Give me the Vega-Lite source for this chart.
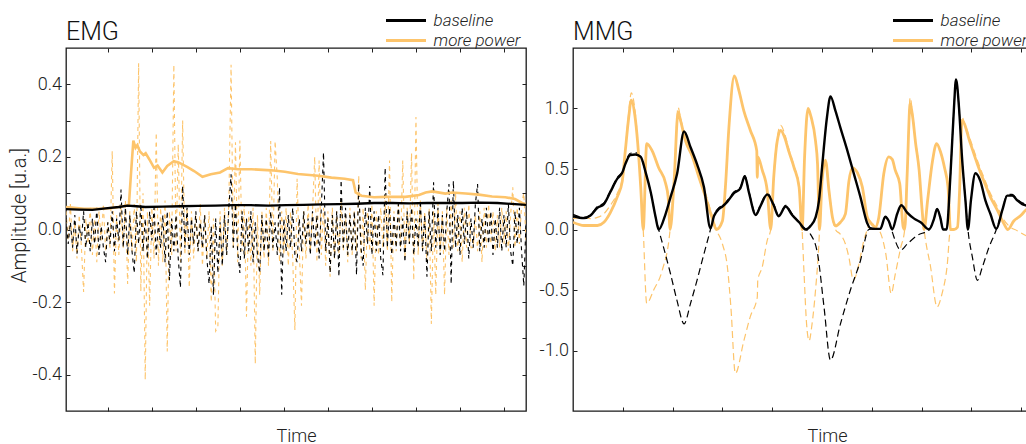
{
"$schema": "https://vega.github.io/schema/vega-lite/v6.json",
"padding": {"left": 8, "top": 11, "right": 0, "bottom": 0},
"autosize": {"type": "pad"},
"bounds": "flush",
"spacing": 47,
"config": {
  "font": "Roboto",
  "view": {"stroke": "#1a1a1a", "strokeWidth": 1.3},
  "axis": {"grid": false, "domain": false, "tickColor": "#222", "tickWidth": 1, "tickSize": -4, "labelFontSize": 18, "labelFontWeight": 300, "labelColor": "#222", "labelPadding": 8.5, "titleFontSize": 18, "titleFontWeight": 300, "titleColor": "#222"},
  "title": {"anchor": "start", "frame": "group", "fontSize": 25, "fontWeight": 300, "color": "#111", "offset": -32.6, "baseline": "alphabetic"},
  "legend": {"orient": "none", "legendX": 319.5, "legendY": -36, "title": null, "padding": 0, "symbolType": "M-10,0H10", "symbolSize": 16, "symbolStrokeWidth": 3, "symbolOffset": 12, "labelOffset": 19, "rowPadding": 2, "labelFontSize": 17, "labelFontStyle": "italic", "labelFontWeight": 300, "labelColor": "#222", "symbolDash": [1, 0]}
},
"resolve": {"scale": {"color": "independent"}, "legend": {"color": "independent"}},
"datasets": {
"emg_b_env": [{"t":0,"v":0.056},{"t":0.3,"v":0.055},{"t":0.6,"v":0.054},{"t":0.9,"v":0.058},{"t":1.2,"v":0.062},{"t":1.4,"v":0.066},{"t":1.6,"v":0.064},{"t":1.8,"v":0.062},{"t":2.2,"v":0.063},{"t":2.6,"v":0.064},{"t":3.0,"v":0.065},{"t":3.4,"v":0.066},{"t":3.8,"v":0.067},{"t":4.2,"v":0.067},{"t":4.6,"v":0.066},{"t":5.0,"v":0.067},{"t":5.4,"v":0.068},{"t":5.8,"v":0.069},{"t":6.2,"v":0.07},{"t":6.6,"v":0.071},{"t":7.0,"v":0.073},{"t":7.4,"v":0.073},{"t":7.8,"v":0.072},{"t":8.2,"v":0.073},{"t":8.6,"v":0.073},{"t":9.0,"v":0.073},{"t":9.4,"v":0.074},{"t":9.8,"v":0.073},{"t":10.2,"v":0.07},{"t":10.45,"v":0.068}],
"emg_o_env": [{"t":0,"v":0.062},{"t":0.41,"v":0.057},{"t":0.86,"v":0.057},{"t":1.09,"v":0.06},{"t":1.32,"v":0.065},{"t":1.43,"v":0.07},{"t":1.48,"v":0.16},{"t":1.53,"v":0.245},{"t":1.58,"v":0.225},{"t":1.62,"v":0.232},{"t":1.68,"v":0.215},{"t":1.76,"v":0.205},{"t":1.81,"v":0.21},{"t":1.91,"v":0.19},{"t":2.0,"v":0.17},{"t":2.08,"v":0.176},{"t":2.19,"v":0.157},{"t":2.3,"v":0.175},{"t":2.45,"v":0.188},{"t":2.57,"v":0.184},{"t":2.76,"v":0.172},{"t":2.91,"v":0.161},{"t":3.1,"v":0.145},{"t":3.29,"v":0.152},{"t":3.5,"v":0.157},{"t":3.68,"v":0.169},{"t":3.91,"v":0.166},{"t":4.21,"v":0.166},{"t":4.67,"v":0.163},{"t":4.97,"v":0.159},{"t":5.27,"v":0.153},{"t":5.73,"v":0.148},{"t":6.03,"v":0.143},{"t":6.33,"v":0.14},{"t":6.52,"v":0.136},{"t":6.58,"v":0.102},{"t":6.71,"v":0.093},{"t":7.0,"v":0.089},{"t":7.26,"v":0.09},{"t":7.71,"v":0.09},{"t":8.02,"v":0.095},{"t":8.17,"v":0.102},{"t":8.32,"v":0.105},{"t":8.62,"v":0.099},{"t":8.77,"v":0.102},{"t":9.08,"v":0.099},{"t":9.38,"v":0.096},{"t":9.68,"v":0.091},{"t":9.98,"v":0.089},{"t":10.2,"v":0.084},{"t":10.36,"v":0.073},{"t":10.45,"v":0.07}],
"emg_b_raw": [{"t":0,"v":0.03},{"t":0.05,"v":-0.04},{"t":0.1,"v":0.02},{"t":0.15,"v":-0.05},{"t":0.2,"v":0.04},{"t":0.25,"v":-0.067},{"t":0.3,"v":0.01},{"t":0.35,"v":-0.03},{"t":0.4,"v":0.05},{"t":0.45,"v":-0.05},{"t":0.5,"v":0.02},{"t":0.55,"v":-0.06},{"t":0.6,"v":0.03},{"t":0.65,"v":-0.04},{"t":0.7,"v":0.06},{"t":0.75,"v":-0.07},{"t":0.8,"v":0.01},{"t":0.85,"v":-0.05},{"t":0.9,"v":-0.09},{"t":0.95,"v":0.02},{"t":1.0,"v":-0.04},{"t":1.05,"v":0.05},{"t":1.1,"v":-0.06},{"t":1.15,"v":0.03},{"t":1.2,"v":-0.03},{"t":1.25,"v":0.11},{"t":1.3,"v":-0.05},{"t":1.35,"v":0.06},{"t":1.4,"v":-0.07},{"t":1.45,"v":0.04},{"t":1.5,"v":-0.06},{"t":1.55,"v":-0.12},{"t":1.6,"v":0.05},{"t":1.65,"v":-0.04},{"t":1.7,"v":0.07},{"t":1.75,"v":-0.06},{"t":1.8,"v":0.03},{"t":1.85,"v":-0.08},{"t":1.9,"v":0.05},{"t":1.95,"v":-0.03},{"t":2.0,"v":0.06},{"t":2.05,"v":-0.07},{"t":2.1,"v":0.02},{"t":2.15,"v":-0.05},{"t":2.2,"v":0.04},{"t":2.25,"v":-0.09},{"t":2.3,"v":0.05},{"t":2.35,"v":-0.14},{"t":2.4,"v":0.03},{"t":2.45,"v":-0.06},{"t":2.5,"v":0.04},{"t":2.55,"v":-0.08},{"t":2.6,"v":-0.16},{"t":2.65,"v":0.12},{"t":2.7,"v":-0.05},{"t":2.75,"v":0.06},{"t":2.8,"v":-0.07},{"t":2.85,"v":0.03},{"t":2.9,"v":-0.04},{"t":2.95,"v":0.05},{"t":3.0,"v":-0.06},{"t":3.05,"v":0.02},{"t":3.1,"v":-0.05},{"t":3.15,"v":0.04},{"t":3.2,"v":-0.08},{"t":3.25,"v":-0.15},{"t":3.3,"v":0.01},{"t":3.35,"v":-0.18},{"t":3.4,"v":0.03},{"t":3.45,"v":-0.12},{"t":3.5,"v":0.02},{"t":3.55,"v":-0.1},{"t":3.6,"v":0.04},{"t":3.65,"v":-0.07},{"t":3.7,"v":0.06},{"t":3.75,"v":0.152},{"t":3.8,"v":-0.05},{"t":3.85,"v":0.07},{"t":3.9,"v":-0.06},{"t":3.95,"v":-0.12},{"t":4.0,"v":0.05},{"t":4.05,"v":-0.08},{"t":4.1,"v":0.03},{"t":4.15,"v":-0.06},{"t":4.2,"v":0.05},{"t":4.25,"v":-0.09},{"t":4.3,"v":0.02},{"t":4.35,"v":-0.07},{"t":4.4,"v":-0.12},{"t":4.45,"v":0.04},{"t":4.5,"v":-0.06},{"t":4.55,"v":0.03},{"t":4.6,"v":-0.08},{"t":4.65,"v":0.05},{"t":4.7,"v":-0.05},{"t":4.75,"v":0.02},{"t":4.8,"v":-0.07},{"t":4.85,"v":0.116},{"t":4.9,"v":-0.18},{"t":4.95,"v":0.03},{"t":5.0,"v":-0.06},{"t":5.05,"v":0.04},{"t":5.1,"v":-0.05},{"t":5.15,"v":0.06},{"t":5.2,"v":-0.07},{"t":5.25,"v":-0.09},{"t":5.3,"v":0.03},{"t":5.35,"v":-0.06},{"t":5.4,"v":0.05},{"t":5.45,"v":-0.04},{"t":5.5,"v":0.03},{"t":5.55,"v":-0.07},{"t":5.6,"v":0.05},{"t":5.65,"v":-0.05},{"t":5.7,"v":0.04},{"t":5.75,"v":-0.08},{"t":5.8,"v":0.06},{"t":5.85,"v":0.212},{"t":5.9,"v":-0.06},{"t":5.95,"v":0.03},{"t":6.0,"v":-0.12},{"t":6.05,"v":0.04},{"t":6.1,"v":-0.08},{"t":6.15,"v":0.05},{"t":6.2,"v":-0.13},{"t":6.25,"v":0.136},{"t":6.3,"v":-0.05},{"t":6.35,"v":0.06},{"t":6.4,"v":-0.07},{"t":6.45,"v":0.04},{"t":6.5,"v":-0.06},{"t":6.55,"v":0.05},{"t":6.6,"v":-0.125},{"t":6.65,"v":0.125},{"t":6.7,"v":-0.05},{"t":6.75,"v":-0.1},{"t":6.8,"v":0.06},{"t":6.85,"v":-0.04},{"t":6.9,"v":0.12},{"t":6.95,"v":-0.07},{"t":7.0,"v":0.05},{"t":7.05,"v":-0.06},{"t":7.1,"v":0.04},{"t":7.15,"v":-0.08},{"t":7.2,"v":-0.126},{"t":7.25,"v":0.17},{"t":7.3,"v":-0.05},{"t":7.35,"v":0.06},{"t":7.4,"v":-0.07},{"t":7.45,"v":0.04},{"t":7.5,"v":-0.05},{"t":7.55,"v":0.07},{"t":7.6,"v":-0.06},{"t":7.65,"v":0.03},{"t":7.7,"v":-0.09},{"t":7.75,"v":0.05},{"t":7.8,"v":-0.04},{"t":7.85,"v":0.06},{"t":7.9,"v":-0.07},{"t":7.95,"v":0.03},{"t":8.0,"v":-0.05},{"t":8.05,"v":0.08},{"t":8.1,"v":-0.06},{"t":8.15,"v":0.04},{"t":8.2,"v":-0.13},{"t":8.25,"v":0.05},{"t":8.3,"v":-0.06},{"t":8.35,"v":0.13},{"t":8.4,"v":-0.05},{"t":8.45,"v":0.06},{"t":8.5,"v":-0.07},{"t":8.55,"v":0.04},{"t":8.6,"v":-0.06},{"t":8.65,"v":0.05},{"t":8.7,"v":0.125},{"t":8.75,"v":-0.15},{"t":8.8,"v":0.134},{"t":8.85,"v":-0.05},{"t":8.9,"v":0.04},{"t":8.95,"v":-0.07},{"t":9.0,"v":0.06},{"t":9.05,"v":-0.04},{"t":9.1,"v":0.05},{"t":9.15,"v":-0.08},{"t":9.2,"v":0.03},{"t":9.25,"v":-0.05},{"t":9.3,"v":0.07},{"t":9.35,"v":0.125},{"t":9.4,"v":-0.06},{"t":9.45,"v":0.03},{"t":9.5,"v":-0.05},{"t":9.55,"v":0.06},{"t":9.6,"v":-0.04},{"t":9.65,"v":0.05},{"t":9.7,"v":-0.07},{"t":9.75,"v":0.03},{"t":9.8,"v":-0.05},{"t":9.85,"v":0.06},{"t":9.9,"v":-0.06},{"t":9.95,"v":0.04},{"t":10.0,"v":-0.05},{"t":10.05,"v":0.07},{"t":10.1,"v":-0.06},{"t":10.15,"v":-0.1},{"t":10.2,"v":0.05},{"t":10.25,"v":-0.04},{"t":10.3,"v":0.06},{"t":10.35,"v":-0.06},{"t":10.4,"v":-0.155},{"t":10.45,"v":0.02}],
"emg_o_raw": [{"t":0,"v":0.05},{"t":0.05,"v":-0.03},{"t":0.1,"v":0.07},{"t":0.15,"v":-0.06},{"t":0.2,"v":0.02},{"t":0.25,"v":-0.08},{"t":0.3,"v":0.04},{"t":0.35,"v":-0.05},{"t":0.4,"v":-0.172},{"t":0.45,"v":0.03},{"t":0.5,"v":-0.04},{"t":0.55,"v":0.06},{"t":0.6,"v":-0.07},{"t":0.65,"v":0.03},{"t":0.7,"v":-0.09},{"t":0.75,"v":0.05},{"t":0.8,"v":-0.03},{"t":0.85,"v":0.07},{"t":0.9,"v":-0.06},{"t":0.95,"v":0.02},{"t":1.0,"v":-0.05},{"t":1.05,"v":0.216},{"t":1.1,"v":-0.176},{"t":1.15,"v":0.04},{"t":1.2,"v":-0.07},{"t":1.25,"v":0.06},{"t":1.3,"v":-0.05},{"t":1.35,"v":0.08},{"t":1.4,"v":-0.15},{"t":1.45,"v":0.05},{"t":1.5,"v":-0.06},{"t":1.55,"v":0.07},{"t":1.6,"v":-0.09},{"t":1.65,"v":0.458},{"t":1.7,"v":-0.17},{"t":1.75,"v":0.1},{"t":1.8,"v":-0.414},{"t":1.85,"v":0.05},{"t":1.9,"v":-0.21},{"t":1.95,"v":0.06},{"t":2.0,"v":-0.08},{"t":2.05,"v":0.267},{"t":2.1,"v":-0.1},{"t":2.15,"v":0.06},{"t":2.2,"v":-0.09},{"t":2.25,"v":0.08},{"t":2.3,"v":-0.336},{"t":2.35,"v":0.05},{"t":2.4,"v":-0.07},{"t":2.45,"v":0.454},{"t":2.5,"v":-0.06},{"t":2.55,"v":0.235},{"t":2.6,"v":-0.09},{"t":2.65,"v":0.3},{"t":2.7,"v":-0.07},{"t":2.75,"v":0.06},{"t":2.8,"v":-0.16},{"t":2.85,"v":0.05},{"t":2.9,"v":-0.08},{"t":2.95,"v":0.04},{"t":3.0,"v":-0.06},{"t":3.05,"v":0.07},{"t":3.1,"v":-0.1},{"t":3.15,"v":0.04},{"t":3.2,"v":-0.08},{"t":3.25,"v":0.05},{"t":3.3,"v":-0.2},{"t":3.35,"v":0.03},{"t":3.4,"v":-0.28},{"t":3.45,"v":-0.27},{"t":3.5,"v":0.05},{"t":3.55,"v":-0.1},{"t":3.6,"v":0.06},{"t":3.65,"v":-0.07},{"t":3.7,"v":0.08},{"t":3.75,"v":0.454},{"t":3.8,"v":-0.05},{"t":3.85,"v":0.24},{"t":3.9,"v":-0.09},{"t":3.95,"v":0.245},{"t":4.0,"v":-0.06},{"t":4.05,"v":0.07},{"t":4.1,"v":-0.24},{"t":4.15,"v":0.05},{"t":4.2,"v":-0.1},{"t":4.25,"v":0.06},{"t":4.3,"v":-0.37},{"t":4.35,"v":0.04},{"t":4.4,"v":-0.18},{"t":4.45,"v":0.05},{"t":4.5,"v":-0.08},{"t":4.55,"v":0.06},{"t":4.6,"v":-0.1},{"t":4.65,"v":0.244},{"t":4.7,"v":-0.06},{"t":4.75,"v":0.244},{"t":4.8,"v":0.14},{"t":4.85,"v":-0.09},{"t":4.9,"v":0.05},{"t":4.95,"v":-0.07},{"t":5.0,"v":0.06},{"t":5.05,"v":-0.1},{"t":5.1,"v":0.05},{"t":5.15,"v":-0.08},{"t":5.2,"v":-0.277},{"t":5.25,"v":0.14},{"t":5.3,"v":-0.06},{"t":5.35,"v":-0.21},{"t":5.4,"v":0.05},{"t":5.45,"v":-0.08},{"t":5.5,"v":0.07},{"t":5.55,"v":-0.06},{"t":5.6,"v":0.05},{"t":5.65,"v":0.2},{"t":5.7,"v":-0.09},{"t":5.75,"v":0.19},{"t":5.8,"v":-0.07},{"t":5.85,"v":0.06},{"t":5.9,"v":-0.1},{"t":5.95,"v":0.05},{"t":6.0,"v":-0.13},{"t":6.05,"v":0.06},{"t":6.1,"v":-0.08},{"t":6.15,"v":0.05},{"t":6.2,"v":-0.07},{"t":6.25,"v":0.08},{"t":6.3,"v":-0.06},{"t":6.35,"v":0.04},{"t":6.4,"v":-0.09},{"t":6.45,"v":0.06},{"t":6.5,"v":-0.07},{"t":6.55,"v":0.05},{"t":6.6,"v":-0.06},{"t":6.65,"v":0.148},{"t":6.7,"v":-0.08},{"t":6.75,"v":0.06},{"t":6.8,"v":-0.167},{"t":6.85,"v":0.05},{"t":6.9,"v":-0.06},{"t":6.95,"v":0.07},{"t":7.0,"v":-0.21},{"t":7.05,"v":0.05},{"t":7.1,"v":-0.07},{"t":7.15,"v":0.06},{"t":7.2,"v":-0.05},{"t":7.25,"v":0.08},{"t":7.3,"v":-0.06},{"t":7.35,"v":0.19},{"t":7.4,"v":-0.2},{"t":7.45,"v":0.05},{"t":7.5,"v":-0.06},{"t":7.55,"v":0.07},{"t":7.6,"v":-0.05},{"t":7.65,"v":0.19},{"t":7.7,"v":-0.08},{"t":7.75,"v":0.06},{"t":7.8,"v":-0.04},{"t":7.85,"v":0.21},{"t":7.9,"v":-0.14},{"t":7.95,"v":0.31},{"t":8.0,"v":-0.07},{"t":8.05,"v":0.08},{"t":8.1,"v":-0.06},{"t":8.15,"v":0.05},{"t":8.2,"v":-0.09},{"t":8.25,"v":0.06},{"t":8.3,"v":-0.26},{"t":8.35,"v":0.05},{"t":8.4,"v":-0.18},{"t":8.45,"v":0.07},{"t":8.5,"v":-0.06},{"t":8.55,"v":0.05},{"t":8.6,"v":-0.18},{"t":8.65,"v":0.06},{"t":8.7,"v":-0.07},{"t":8.75,"v":0.08},{"t":8.8,"v":-0.05},{"t":8.85,"v":0.1},{"t":8.9,"v":-0.06},{"t":8.95,"v":0.05},{"t":9.0,"v":-0.09},{"t":9.05,"v":0.06},{"t":9.1,"v":-0.05},{"t":9.15,"v":0.07},{"t":9.2,"v":-0.05},{"t":9.25,"v":-0.05},{"t":9.3,"v":0.04},{"t":9.35,"v":-0.06},{"t":9.4,"v":0.05},{"t":9.45,"v":-0.09},{"t":9.5,"v":0.06},{"t":9.55,"v":-0.05},{"t":9.6,"v":0.07},{"t":9.65,"v":-0.04},{"t":9.7,"v":0.05},{"t":9.75,"v":-0.06},{"t":9.8,"v":0.04},{"t":9.85,"v":-0.05},{"t":9.9,"v":0.06},{"t":9.95,"v":-0.04},{"t":10.0,"v":0.05},{"t":10.05,"v":-0.06},{"t":10.1,"v":0.04},{"t":10.15,"v":0.116},{"t":10.2,"v":-0.05},{"t":10.25,"v":0.06},{"t":10.3,"v":-0.04},{"t":10.35,"v":0.07},{"t":10.4,"v":0.1},{"t":10.45,"v":-0.03}],
"mmg_b_env": [{"t":0,"v":0.11},{"t":0.22,"v":0.094},{"t":0.35,"v":0.115},{"t":0.49,"v":0.18},{"t":0.62,"v":0.21},{"t":0.75,"v":0.31},{"t":0.89,"v":0.42},{"t":0.99,"v":0.47},{"t":1.05,"v":0.54},{"t":1.15,"v":0.615},{"t":1.25,"v":0.62},{"t":1.36,"v":0.6},{"t":1.46,"v":0.47},{"t":1.56,"v":0.31},{"t":1.66,"v":0.1},{"t":1.72,"v":0},{"t":1.86,"v":0.13},{"t":1.96,"v":0.27},{"t":2.09,"v":0.46},{"t":2.23,"v":0.81},{"t":2.36,"v":0.68},{"t":2.49,"v":0.54},{"t":2.63,"v":0.35},{"t":2.76,"v":0.01},{"t":2.83,"v":0.11},{"t":2.93,"v":0.17},{"t":3.0,"v":0.19},{"t":3.1,"v":0.23},{"t":3.23,"v":0.3},{"t":3.36,"v":0.34},{"t":3.45,"v":0.44},{"t":3.53,"v":0.31},{"t":3.67,"v":0.12},{"t":3.77,"v":0.2},{"t":3.9,"v":0.29},{"t":4.03,"v":0.2},{"t":4.13,"v":0.11},{"t":4.27,"v":0.19},{"t":4.4,"v":0.12},{"t":4.54,"v":0.06},{"t":4.67,"v":0},{"t":4.77,"v":0.03},{"t":4.87,"v":0.1},{"t":4.94,"v":0.24},{"t":5.0,"v":0.51},{"t":5.1,"v":0.93},{"t":5.17,"v":1.1},{"t":5.27,"v":0.98},{"t":5.37,"v":0.84},{"t":5.51,"v":0.65},{"t":5.64,"v":0.46},{"t":5.77,"v":0.27},{"t":5.91,"v":0.05},{"t":5.97,"v":0.01},{"t":6.07,"v":0.005},{"t":6.17,"v":0.005},{"t":6.27,"v":0.105},{"t":6.34,"v":0.07},{"t":6.41,"v":0},{"t":6.51,"v":0.13},{"t":6.59,"v":0.2},{"t":6.71,"v":0.14},{"t":6.85,"v":0.09},{"t":6.98,"v":0.06},{"t":7.15,"v":0},{"t":7.25,"v":0.09},{"t":7.31,"v":0.17},{"t":7.38,"v":0.09},{"t":7.43,"v":0},{"t":7.5,"v":0},{"t":7.58,"v":0.46},{"t":7.65,"v":1.01},{"t":7.69,"v":1.24},{"t":7.75,"v":1.01},{"t":7.81,"v":0.6},{"t":7.88,"v":0.24},{"t":7.93,"v":0},{"t":7.99,"v":0.24},{"t":8.08,"v":0.465},{"t":8.18,"v":0.4},{"t":8.28,"v":0.24},{"t":8.38,"v":0.13},{"t":8.5,"v":0.005},{"t":8.62,"v":0.16},{"t":8.72,"v":0.28},{"t":8.82,"v":0.28},{"t":8.92,"v":0.24},{"t":9.02,"v":0.21},{"t":9.09,"v":0.2},{"t":9.2,"v":0.19}],
"mmg_b_raw": [{"t":0,"v":0.125},{"t":0.22,"v":0.1},{"t":0.35,"v":0.12},{"t":0.49,"v":0.19},{"t":0.62,"v":0.22},{"t":0.75,"v":0.32},{"t":0.89,"v":0.43},{"t":0.99,"v":0.48},{"t":1.05,"v":0.55},{"t":1.15,"v":0.63},{"t":1.25,"v":0.635},{"t":1.36,"v":0.6},{"t":1.46,"v":0.47},{"t":1.56,"v":0.31},{"t":1.66,"v":0.1},{"t":1.72,"v":0},{"t":1.82,"v":-0.15},{"t":1.96,"v":-0.37},{"t":2.09,"v":-0.59},{"t":2.23,"v":-0.78},{"t":2.36,"v":-0.61},{"t":2.49,"v":-0.42},{"t":2.63,"v":-0.2},{"t":2.76,"v":0},{"t":2.83,"v":0.115},{"t":2.93,"v":0.18},{"t":3.0,"v":0.2},{"t":3.1,"v":0.24},{"t":3.23,"v":0.31},{"t":3.36,"v":0.35},{"t":3.45,"v":0.445},{"t":3.53,"v":0.32},{"t":3.67,"v":0.13},{"t":3.77,"v":0.21},{"t":3.9,"v":0.3},{"t":4.03,"v":0.21},{"t":4.13,"v":0.115},{"t":4.27,"v":0.2},{"t":4.4,"v":0.13},{"t":4.54,"v":0.06},{"t":4.67,"v":0.005},{"t":4.77,"v":-0.04},{"t":4.91,"v":-0.2},{"t":5.04,"v":-0.64},{"t":5.17,"v":-1.08},{"t":5.37,"v":-0.78},{"t":5.57,"v":-0.5},{"t":5.77,"v":-0.26},{"t":5.94,"v":0},{"t":6.07,"v":0.005},{"t":6.17,"v":0.005},{"t":6.27,"v":0.107},{"t":6.34,"v":0.07},{"t":6.41,"v":-0.02},{"t":6.58,"v":-0.17},{"t":6.71,"v":-0.12},{"t":6.91,"v":-0.05},{"t":7.15,"v":0},{"t":7.25,"v":0.09},{"t":7.31,"v":0.17},{"t":7.38,"v":0.09},{"t":7.43,"v":0},{"t":7.5,"v":0},{"t":7.58,"v":0.46},{"t":7.65,"v":1.01},{"t":7.69,"v":1.24},{"t":7.75,"v":1.01},{"t":7.81,"v":0.6},{"t":7.88,"v":0.24},{"t":7.93,"v":0},{"t":8.02,"v":-0.23},{"t":8.12,"v":-0.42},{"t":8.22,"v":-0.31},{"t":8.35,"v":-0.15},{"t":8.5,"v":0},{"t":8.62,"v":0.16},{"t":8.72,"v":0.29},{"t":8.82,"v":0.29},{"t":8.92,"v":0.25},{"t":9.02,"v":0.22},{"t":9.09,"v":0.21},{"t":9.2,"v":0.2}],
"mmg_o_env": [{"t":0,"v":0.06},{"t":0.22,"v":0.033},{"t":0.49,"v":0.033},{"t":0.62,"v":0.06},{"t":0.75,"v":0.14},{"t":0.89,"v":0.27},{"t":0.99,"v":0.4},{"t":1.05,"v":0.65},{"t":1.12,"v":0.93},{"t":1.17,"v":1.07},{"t":1.24,"v":0.95},{"t":1.3,"v":0.71},{"t":1.36,"v":0.35},{"t":1.41,"v":0},{"t":1.48,"v":0.71},{"t":1.59,"v":0.65},{"t":1.72,"v":0.51},{"t":1.86,"v":0.38},{"t":1.91,"v":0.27},{"t":1.95,"v":0},{"t":2.03,"v":0.4},{"t":2.11,"v":0.97},{"t":2.16,"v":0.9},{"t":2.26,"v":0.73},{"t":2.39,"v":0.61},{"t":2.53,"v":0.43},{"t":2.66,"v":0.27},{"t":2.79,"v":0.1},{"t":2.88,"v":0},{"t":3.0,"v":0.07},{"t":3.06,"v":0.35},{"t":3.13,"v":0.84},{"t":3.24,"v":1.27},{"t":3.33,"v":1.15},{"t":3.43,"v":0.98},{"t":3.56,"v":0.82},{"t":3.69,"v":0.65},{"t":3.7,"v":0.43},{"t":3.71,"v":0.6},{"t":3.8,"v":0.49},{"t":3.9,"v":0.32},{"t":3.97,"v":0},{"t":4.03,"v":0.43},{"t":4.1,"v":0.73},{"t":4.17,"v":0.82},{"t":4.25,"v":0.76},{"t":4.33,"v":0.65},{"t":4.44,"v":0.51},{"t":4.54,"v":0.35},{"t":4.6,"v":0},{"t":4.65,"v":0.6},{"t":4.72,"v":1.0},{"t":4.78,"v":0.93},{"t":4.87,"v":0.73},{"t":4.91,"v":0.54},{"t":4.95,"v":0},{"t":5.0,"v":0.4},{"t":5.07,"v":0.57},{"t":5.14,"v":0.32},{"t":5.21,"v":0.1},{"t":5.27,"v":0.03},{"t":5.37,"v":0.06},{"t":5.47,"v":0.13},{"t":5.54,"v":0.4},{"t":5.61,"v":0.51},{"t":5.71,"v":0.47},{"t":5.81,"v":0.35},{"t":5.91,"v":0.1},{"t":5.97,"v":0.06},{"t":6.07,"v":0.02},{"t":6.14,"v":0.1},{"t":6.24,"v":0.46},{"t":6.34,"v":0.6},{"t":6.41,"v":0.58},{"t":6.47,"v":0.49},{"t":6.56,"v":0.38},{"t":6.63,"v":0.02},{"t":6.66,"v":0},{"t":6.71,"v":0.46},{"t":6.77,"v":1.04},{"t":6.82,"v":0.93},{"t":6.88,"v":0.71},{"t":6.95,"v":0.49},{"t":7.01,"v":0.16},{"t":7.05,"v":0},{"t":7.12,"v":0.24},{"t":7.22,"v":0.57},{"t":7.3,"v":0.71},{"t":7.38,"v":0.64},{"t":7.46,"v":0.51},{"t":7.53,"v":0.35},{"t":7.58,"v":0},{"t":7.65,"v":0},{"t":7.72,"v":0.02},{"t":7.76,"v":0.3},{"t":7.81,"v":0.9},{"t":7.98,"v":0.71},{"t":8.12,"v":0.54},{"t":8.25,"v":0.4},{"t":8.38,"v":0.27},{"t":8.52,"v":0.16},{"t":8.65,"v":0.05},{"t":8.73,"v":0},{"t":8.85,"v":0.07},{"t":8.99,"v":0.115},{"t":9.09,"v":0.16},{"t":9.2,"v":0.2}],
"mmg_o_raw": [{"t":0,"v":0.09},{"t":0.22,"v":0.1},{"t":0.35,"v":0.09},{"t":0.49,"v":0.1},{"t":0.62,"v":0.13},{"t":0.75,"v":0.2},{"t":0.89,"v":0.3},{"t":0.99,"v":0.42},{"t":1.05,"v":0.66},{"t":1.12,"v":0.97},{"t":1.17,"v":1.13},{"t":1.24,"v":1.0},{"t":1.3,"v":0.73},{"t":1.36,"v":0.36},{"t":1.41,"v":0},{"t":1.48,"v":-0.61},{"t":1.62,"v":-0.5},{"t":1.79,"v":-0.34},{"t":1.95,"v":0},{"t":2.03,"v":0.42},{"t":2.11,"v":1.01},{"t":2.16,"v":0.92},{"t":2.26,"v":0.76},{"t":2.39,"v":0.64},{"t":2.53,"v":0.46},{"t":2.66,"v":0.3},{"t":2.79,"v":0.12},{"t":2.88,"v":0},{"t":3.0,"v":-0.12},{"t":3.1,"v":-0.31},{"t":3.17,"v":-0.64},{"t":3.26,"v":-1.19},{"t":3.43,"v":-0.92},{"t":3.56,"v":-0.72},{"t":3.7,"v":-0.56},{"t":3.71,"v":-0.42},{"t":3.8,"v":-0.31},{"t":3.9,"v":-0.09},{"t":3.97,"v":0},{"t":4.03,"v":0.44},{"t":4.1,"v":0.76},{"t":4.17,"v":0.86},{"t":4.25,"v":0.79},{"t":4.33,"v":0.67},{"t":4.44,"v":0.52},{"t":4.54,"v":0.36},{"t":4.6,"v":0},{"t":4.64,"v":-0.37},{"t":4.69,"v":-0.78},{"t":4.74,"v":-0.92},{"t":4.8,"v":-0.78},{"t":4.87,"v":-0.5},{"t":4.94,"v":-0.09},{"t":4.95,"v":0},{"t":5.0,"v":0.4},{"t":5.07,"v":0.58},{"t":5.14,"v":0.33},{"t":5.21,"v":0.1},{"t":5.27,"v":0},{"t":5.37,"v":-0.04},{"t":5.47,"v":-0.12},{"t":5.54,"v":-0.23},{"t":5.63,"v":-0.42},{"t":5.71,"v":-0.34},{"t":5.84,"v":-0.09},{"t":5.91,"v":0},{"t":5.97,"v":0.07},{"t":6.07,"v":0.02},{"t":6.14,"v":0},{"t":6.28,"v":-0.2},{"t":6.39,"v":-0.53},{"t":6.47,"v":-0.37},{"t":6.58,"v":-0.15},{"t":6.66,"v":0},{"t":6.71,"v":0.48},{"t":6.77,"v":1.09},{"t":6.82,"v":0.95},{"t":6.88,"v":0.73},{"t":6.95,"v":0.5},{"t":7.01,"v":0.16},{"t":7.05,"v":0},{"t":7.18,"v":-0.31},{"t":7.31,"v":-0.64},{"t":7.41,"v":-0.53},{"t":7.51,"v":-0.31},{"t":7.58,"v":0},{"t":7.65,"v":0},{"t":7.72,"v":0.02},{"t":7.76,"v":0.3},{"t":7.81,"v":0.93},{"t":7.86,"v":0.88},{"t":7.98,"v":0.74},{"t":8.12,"v":0.57},{"t":8.25,"v":0.43},{"t":8.38,"v":0.3},{"t":8.52,"v":0.19},{"t":8.65,"v":0.08},{"t":8.78,"v":0.02},{"t":8.92,"v":-0.01},{"t":9.09,"v":-0.05},{"t":9.2,"v":-0.07}]
},
"hconcat": [
{
  "width": 460, "height": 363,
  "title": {"text": "EMG"},
  "layer": [
    {"data": {"name": "emg_o_raw"}, "mark": {"type": "line", "strokeWidth": 1.1, "strokeDash": [4, 4], "clip": true},
     "encoding": {
       "x": {"field": "t", "type": "quantitative", "scale": {"domain": [0, 10.45], "nice": false, "zero": false}, "axis": {"orient": "bottom", "title": "Time", "labels": false, "values": [0.955, 1.955, 2.955, 3.955, 4.955, 5.955, 6.955, 7.955, 8.955, 9.955], "titleBaseline": "alphabetic", "titlePadding": 30}},
       "y": {"field": "v", "type": "quantitative", "scale": {"domain": [-0.5, 0.5], "nice": false, "zero": false}, "axis": {"orient": "left", "title": "Amplitude [u.a.]", "titleFontSize": 20, "values": [-0.4, -0.3, -0.2, -0.1, 0, 0.1, 0.2, 0.3, 0.4], "labelExpr": "abs(round(datum.value*10))%2==0 ? replace(format(datum.value,'.1f'),'−','-') : ''", "titlePadding": 3, "titleY": 167}},
       "color": {"datum": "more power", "scale": {"domain": ["baseline", "more power"], "range": ["#000000", "#fdc46b"]}}
     }},
    {"data": {"name": "emg_b_raw"}, "mark": {"type": "line", "strokeWidth": 1.1, "strokeDash": [4, 4], "clip": true},
     "encoding": {
       "x": {"field": "t", "type": "quantitative", "scale": {"domain": [0, 10.45], "nice": false, "zero": false}, "axis": {"orient": "top", "title": null, "labels": false, "values": [0.955, 1.955, 2.955, 3.955, 4.955, 5.955, 6.955, 7.955, 8.955, 9.955]}},
       "y": {"field": "v", "type": "quantitative", "scale": {"domain": [-0.5, 0.5], "nice": false, "zero": false}, "axis": {"orient": "right", "title": null, "labels": false, "values": [-0.4, -0.3, -0.2, -0.1, 0, 0.1, 0.2, 0.3, 0.4]}},
       "color": {"datum": "baseline", "scale": {"domain": ["baseline", "more power"], "range": ["#000000", "#fdc46b"]}}
     }},
    {"data": {"name": "emg_o_env"}, "mark": {"type": "line", "strokeWidth": 2.6, "clip": true},
     "encoding": {
       "x": {"field": "t", "type": "quantitative", "scale": {"domain": [0, 10.45], "nice": false, "zero": false}, "axis": null},
       "y": {"field": "v", "type": "quantitative", "scale": {"domain": [-0.5, 0.5], "nice": false, "zero": false}, "axis": null},
       "color": {"datum": "more power", "scale": {"domain": ["baseline", "more power"], "range": ["#000000", "#fdc46b"]}}
     }},
    {"data": {"name": "emg_b_env"}, "mark": {"type": "line", "strokeWidth": 2.3, "clip": true},
     "encoding": {
       "x": {"field": "t", "type": "quantitative", "scale": {"domain": [0, 10.45], "nice": false, "zero": false}, "axis": null},
       "y": {"field": "v", "type": "quantitative", "scale": {"domain": [-0.5, 0.5], "nice": false, "zero": false}, "axis": null},
       "color": {"datum": "baseline", "scale": {"domain": ["baseline", "more power"], "range": ["#000000", "#fdc46b"]}}
     }}
  ]
},
{
  "width": 508, "height": 363,
  "title": {"text": "MMG"},
  "layer": [
    {"data": {"name": "mmg_o_raw"}, "mark": {"type": "line", "interpolate": "monotone", "strokeWidth": 1.2, "strokeDash": [7, 4], "clip": true},
     "encoding": {
       "x": {"field": "t", "type": "quantitative", "scale": {"domain": [0, 10.2], "nice": false, "zero": false}, "axis": {"orient": "bottom", "title": "Time", "labels": false, "values": [1, 2, 3, 4, 5, 6, 7, 8, 9, 10], "titleBaseline": "alphabetic", "titlePadding": 30}},
       "y": {"field": "v", "type": "quantitative", "scale": {"domain": [-1.5, 1.5], "nice": false, "zero": false}, "axis": {"orient": "left", "title": null, "values": [-1, -0.5, 0, 0.5, 1], "labelExpr": "replace(format(datum.value,'.1f'),'−','-')"}},
       "color": {"datum": "more power", "scale": {"domain": ["baseline", "more power"], "range": ["#000000", "#fdc46b"]}}
     }},
    {"data": {"name": "mmg_b_raw"}, "mark": {"type": "line", "interpolate": "monotone", "strokeWidth": 1.2, "strokeDash": [7, 4], "clip": true},
     "encoding": {
       "x": {"field": "t", "type": "quantitative", "scale": {"domain": [0, 10.2], "nice": false, "zero": false}, "axis": {"orient": "top", "title": null, "labels": false, "values": [1, 2, 3, 4, 5, 6, 7, 8, 9, 10]}},
       "y": {"field": "v", "type": "quantitative", "scale": {"domain": [-1.5, 1.5], "nice": false, "zero": false}, "axis": {"orient": "right", "title": null, "labels": false, "values": [-1, -0.5, 0, 0.5, 1]}},
       "color": {"datum": "baseline", "scale": {"domain": ["baseline", "more power"], "range": ["#000000", "#fdc46b"]}}
     }},
    {"data": {"name": "mmg_o_env"}, "mark": {"type": "line", "interpolate": "monotone", "strokeWidth": 2.8, "clip": true},
     "encoding": {
       "x": {"field": "t", "type": "quantitative", "scale": {"domain": [0, 10.2], "nice": false, "zero": false}, "axis": null},
       "y": {"field": "v", "type": "quantitative", "scale": {"domain": [-1.5, 1.5], "nice": false, "zero": false}, "axis": null},
       "color": {"datum": "more power", "scale": {"domain": ["baseline", "more power"], "range": ["#000000", "#fdc46b"]}}
     }},
    {"data": {"name": "mmg_b_env"}, "mark": {"type": "line", "interpolate": "monotone", "strokeWidth": 2.4, "clip": true},
     "encoding": {
       "x": {"field": "t", "type": "quantitative", "scale": {"domain": [0, 10.2], "nice": false, "zero": false}, "axis": null},
       "y": {"field": "v", "type": "quantitative", "scale": {"domain": [-1.5, 1.5], "nice": false, "zero": false}, "axis": null},
       "color": {"datum": "baseline", "scale": {"domain": ["baseline", "more power"], "range": ["#000000", "#fdc46b"]}}
     }}
  ]
}
]
}
